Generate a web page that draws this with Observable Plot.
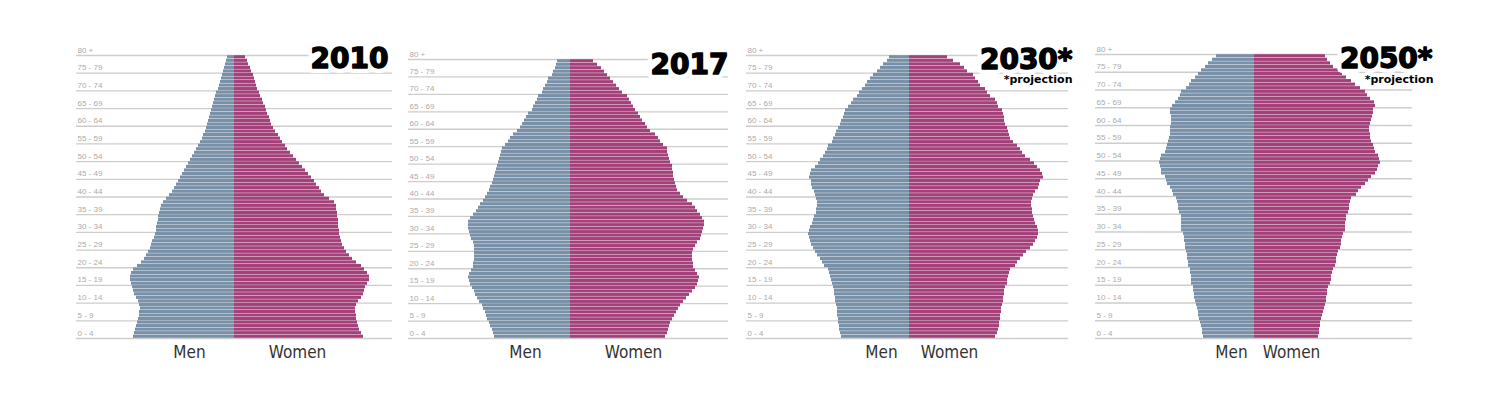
<!DOCTYPE html>
<html>
<head>
<meta charset="utf-8">
<script src="https://cdn.jsdelivr.net/npm/d3@7"></script>
<script src="https://cdn.jsdelivr.net/npm/@observablehq/plot@0.6"></script>
<style>
  body { margin: 0; background: #fff; }
  #wrap { position: relative; width: 1500px; height: 395px; overflow: hidden; background: #fff; }
  .panel { position: absolute; top: 0; }
</style>
</head>
<body>
<div id="wrap"></div>
<script>
// ---- Data ----
const ages = d3.range(0, 80); // single-year ages 0 .. 79
const groupStarts = [0, 5, 10, 15, 20, 25, 30, 35, 40, 45, 50, 55, 60, 65, 70, 75, 80];
const groupLabels = ["0 - 4", "5 - 9", "10 - 14", "15 - 19", "20 - 24", "25 - 29", "30 - 34", "35 - 39",
  "40 - 44", "45 - 49", "50 - 54", "55 - 59", "60 - 64", "65 - 69", "70 - 74", "75 - 79", "80 +"];
const sexLabels = ["Men", "Women"];
const years = ["2010", "2017", "2030*", "2050*"];
const noteText = "*projection";

const men2010 = [101,100,99,98,97,96,95,95,94,95,96,98,100,101,102,103,104,104,103,101,
  97,93,90,88,86,84,83,82,80,79,78,78,77,76,76,75,74,73,71,68,
  65,62,60,58,56,54,52,50,48,46,44,42,40,38,36,34,32,31,29,28,
  27,26,25,24,23,22,21,20,19,18,16,15,14,13,12,11,10,9,8,7];
const women2010 = [129,127,125,124,123,122,122,121,121,122,124,127,129,130,131,133,135,135,133,130,
  127,122,118,115,112,110,108,107,106,105,105,104,104,104,103,103,102,102,100,95,
  90,87,85,82,80,77,74,71,68,65,62,59,56,53,51,48,46,44,41,39,
  37,36,35,33,32,31,29,28,26,25,23,22,21,20,19,17,16,14,13,11];

const men2017 = [76,77,78,80,81,83,84,85,87,88,91,93,95,96,98,100,101,102,101,99,
  97,97,96,96,96,96,96,97,99,100,101,102,102,102,100,97,94,92,90,87,
  85,83,81,80,78,77,76,75,74,73,72,71,70,69,68,65,62,60,57,53,
  50,48,46,44,42,38,37,35,33,32,28,27,25,23,22,18,17,15,14,13];
const women2017 = [95,97,98,99,100,102,104,106,108,110,113,116,119,122,125,127,128,129,127,125,
  123,123,122,122,122,123,125,127,130,131,132,133,134,134,132,130,127,125,122,117,
  113,110,107,106,105,104,103,103,102,102,100,99,98,97,97,93,90,88,85,80,
  77,75,72,70,68,65,63,61,59,57,52,49,46,43,40,37,34,31,27,23];

const men2030 = [68,69,70,70,71,71,72,72,72,73,74,74,75,75,76,77,78,79,80,81,
  85,87,89,92,94,96,98,99,100,101,100,99,97,96,95,93,93,92,92,93,
  94,95,97,98,98,100,99,98,94,91,89,86,84,82,81,77,76,74,73,71,
  69,68,66,65,64,61,58,56,52,50,47,44,42,39,36,32,29,26,22,20];
const women2030 = [86,88,89,90,90,91,91,92,92,93,94,94,95,95,96,98,98,99,100,101,
  106,108,111,114,117,121,124,126,128,129,129,128,126,125,124,123,123,122,122,123,
  124,126,129,130,131,134,133,131,128,125,121,116,113,111,108,104,101,100,99,98,
  96,95,95,94,93,89,88,86,81,78,76,71,69,66,64,58,55,51,44,38];

const men2050 = [51,52,52,53,54,55,56,56,57,58,59,60,60,61,61,63,63,63,64,64,
  66,66,67,67,68,69,69,70,70,71,73,73,73,73,73,75,76,76,77,78,
  81,82,84,87,88,89,93,93,94,95,94,93,89,88,87,86,85,84,84,84,
  83,83,83,84,84,82,79,76,74,73,68,65,63,59,56,53,49,46,42,38];
const women2050 = [64,65,65,66,66,67,68,69,70,71,72,72,73,73,74,76,77,77,78,79,
  81,82,82,83,84,86,87,87,88,89,91,91,91,92,92,94,95,95,96,97,
  102,104,107,111,114,117,121,123,124,126,125,124,121,120,119,117,116,116,115,115,
  116,117,118,119,119,121,120,116,113,111,106,101,97,92,88,84,79,76,73,71];

// ---- Layout (styling, not data) ----
const BOTTOM = 338, H = 395, EXTRA = 40;
const panels = [
  {title: years[0], note: false, men: men2010, women: women2010, left: 76, right: 392, center: 234, top: 55,
   titleDx: -4, titleBase: 67, noteDx: 0, menX: -45, womenX: 63},
  {title: years[1], note: false, men: men2017, women: women2017, left: 408, right: 728, center: 570, top: 59,
   titleDx: 0, titleBase: 73, noteDx: 0, menX: -45, womenX: 63},
  {title: years[2], note: true, men: men2030, women: women2030, left: 746, right: 1068, center: 909, top: 55,
   titleDx: 4, titleBase: 68, noteDx: 4, menX: -28, womenX: 40},
  {title: years[3], note: true, men: men2050, women: women2050, left: 1095, right: 1412, center: 1254, top: 54,
   titleDx: 20, titleBase: 67, noteDx: 21, menX: -23, womenX: 37}
];

const MEN_COLOR = "#7890a8";
const WOMEN_COLOR = "#a4407a";
const INSET = 0.2;
const groups = groupStarts.map((s, i) => ({start: s, label: groupLabels[i]}));
const labelFont = "'Liberation Sans Narrow', 'Arial Narrow', 'DejaVu Sans Condensed', sans-serif";

const wrap = document.getElementById("wrap");
for (const p of panels) {
  const rows = ages.map((a, i) => ({age: a, men: p.men[i], women: p.women[i]}));
  const W = p.right - p.left;
  const titleOpts = (extra) => Object.assign({frameAnchor: "top-right", textAnchor: "end", lineAnchor: "bottom",
      dx: p.titleDx, dy: p.titleBase - p.top, fontSize: 28, fontWeight: "bold",
      fontFamily: "'DejaVu Sans', sans-serif"}, extra);
  const marks = [
    Plot.ruleY(groups, {y: "start", stroke: "#cdcdcd", strokeWidth: 1.3}),
    Plot.text(groups, {y: "start", text: "label", frameAnchor: "left", textAnchor: "start",
      lineAnchor: "bottom", dx: 1, dy: -3, fontSize: 8, fill: "#aaaaaa",
      fontFamily: "'Liberation Sans', Arial, sans-serif"}),
    Plot.rectX(rows, {x1: d => -d.men, x2: 0, y1: "age", y2: d => d.age + 1,
      fill: MEN_COLOR, insetTop: INSET, insetBottom: INSET}),
    Plot.rectX(rows, {x1: 0, x2: "women", y1: "age", y2: d => d.age + 1,
      fill: WOMEN_COLOR, insetTop: INSET, insetBottom: INSET}),
    // white box-like halo, then heavy black glyphs
    Plot.text([p.title], titleOpts({fill: "white", stroke: "white", strokeWidth: 10})),
    Plot.text([p.title], titleOpts({fill: "#000", stroke: "#000", strokeWidth: 1.4})),
    Plot.text([sexLabels[0]], {x: p.menX, y: 0, textAnchor: "middle", lineAnchor: "bottom", dy: 19,
      fontSize: 17, fill: "#333", fontFamily: labelFont}),
    Plot.text([sexLabels[1]], {x: p.womenX, y: 0, textAnchor: "middle", lineAnchor: "bottom", dy: 19,
      fontSize: 17, fill: "#333", fontFamily: labelFont})
  ];
  if (p.note) {
    marks.push(Plot.text([noteText], {frameAnchor: "top-right", textAnchor: "end", lineAnchor: "bottom",
      dx: p.noteDx, dy: 82 - p.top, fontSize: 11, fontWeight: "bold",
      fontFamily: "'DejaVu Sans', sans-serif", fill: "#000", stroke: "white", strokeWidth: 5,
      paintOrder: "stroke"}));
  }
  const chart = Plot.plot({
    width: W + EXTRA,
    height: H,
    marginLeft: 0,
    marginRight: EXTRA,
    marginTop: p.top,
    marginBottom: H - BOTTOM,
    x: {domain: [p.left - p.center, p.right - p.center], axis: null},
    y: {domain: [0, 80], axis: null},
    style: {background: "transparent", overflow: "visible"},
    marks
  });
  const div = document.createElement("div");
  div.className = "panel";
  div.style.left = p.left + "px";
  div.style.width = (W + EXTRA) + "px";
  div.appendChild(chart);
  wrap.appendChild(div);
}
</script>
</body>
</html>
